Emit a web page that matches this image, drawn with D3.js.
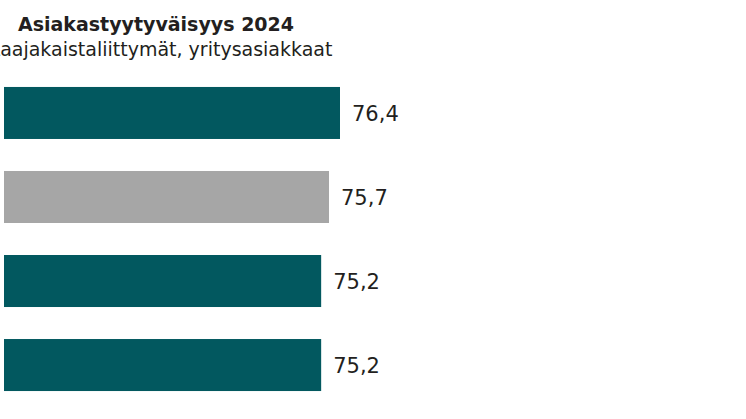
<!DOCTYPE html>
<html>
<head>
<meta charset="utf-8">
<script src="https://cdn.jsdelivr.net/npm/d3@7"></script>
<style>
  html, body { margin: 0; padding: 0; background: #fff; }
  svg { display: block; }
</style>
</head>
<body>
<script>
const titleText = "Asiakastyytyväisyys 2024";
const subtitleText = "Laajakaistaliittymät, yritysasiakkaat";
const categories = ["Operaattori A", "Toimiala keskimäärin", "Operaattori B", "Operaattori C"];
const values = [76.4, 75.7, 75.2, 75.2];
const barColors = ["#02585f", "#a6a6a6", "#02585f", "#02585f"];
const xDomain = [55, 76.4];

const W = 746, H = 419;
const svg = d3.select("body").append("svg").attr("width", W).attr("height", H);

const data = categories.map((c, i) => ({ c, v: values[i], color: barColors[i] }));

const x = d3.scaleLinear().domain(xDomain).range([4, 340]);
const y = d3.scaleBand().domain(categories).range([71, 407]).paddingInner(0.381).paddingOuter(0.19);

svg.append("text")
  .attr("x", 156).attr("y", 30.5)
  .attr("text-anchor", "middle")
  .attr("font-family", "DejaVu Sans, sans-serif")
  .attr("font-weight", "bold")
  .attr("font-size", 19)
  .attr("fill", "#231f20")
  .text(titleText);

svg.append("text")
  .attr("x", 161).attr("y", 55.5)
  .attr("text-anchor", "middle")
  .attr("font-family", "DejaVu Sans, sans-serif")
  .attr("font-size", 19)
  .attr("fill", "#231f20")
  .text(subtitleText);

svg.append("g").selectAll("rect")
  .data(data).join("rect")
  .attr("x", x(xDomain[0]))
  .attr("y", d => y(d.c))
  .attr("width", d => x(d.v) - x(xDomain[0]))
  .attr("height", y.bandwidth())
  .attr("fill", d => d.color);

const fmt = v => d3.format(".1f")(v).replace(".", ",");

svg.append("g").selectAll("text")
  .data(data).join("text")
  .attr("x", d => x(d.v) + 12)
  .attr("y", d => y(d.c) + y.bandwidth() / 2)
  .attr("dy", "0.4em")
  .attr("font-family", "DejaVu Sans, sans-serif")
  .attr("font-size", 21)
  .attr("fill", "#231f20")
  .text(d => fmt(d.v));
</script>
</body>
</html>
